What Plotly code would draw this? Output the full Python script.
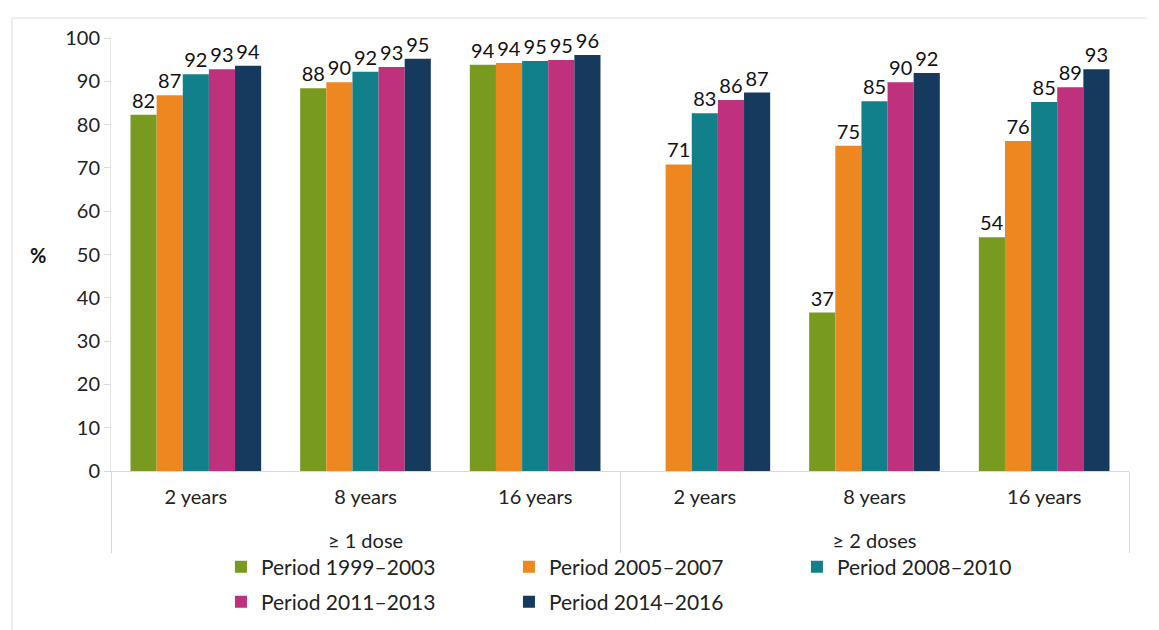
import plotly.graph_objects as go

doses = ["≥ 1 dose"] * 3 + ["≥ 2 doses"] * 3
ages = ["2 years", "8 years", "16 years"] * 2

series_names = ["Period 1999–2003", "Period 2005–2007", "Period 2008–2010",
                "Period 2011–2013", "Period 2014–2016"]
p1999 = [82.3, 88.4, 93.8, None, 36.6, 54.0]
p2005 = [86.8, 89.8, 94.2, 70.8, 75.1, 76.2]
p2008 = [91.6, 92.2, 94.7, 82.6, 85.4, 85.2]
p2011 = [92.8, 93.3, 94.9, 85.7, 89.8, 88.6]
p2014 = [93.6, 95.2, 96.1, 87.4, 91.9, 92.8]
values = [p1999, p2005, p2008, p2011, p2014]
colors = ["#779A1F", "#EF8720", "#12808A", "#BF307D", "#163A5E"]

# group labels drawn one line lower (leading line break) like the reference
dose_labels = ["<br>" + d for d in doses]

FONT = "Lato"
fig = go.Figure()
for i, (name, vals, col) in enumerate(zip(series_names, values, colors)):
    fig.add_trace(go.Bar(
        name=name, x=[dose_labels, ages], y=vals,
        marker=dict(color=col, line=dict(width=0)),
        texttemplate="%{y:.0f}", textposition="outside",
        textfont=dict(family=FONT, size=20, color="#111"),
        cliponaxis=False,
        legend="legend" if i < 3 else "legend2",
    ))

legend_common = dict(
    orientation="h", x=0.108, xanchor="left", yanchor="middle",
    entrywidth=243, entrywidthmode="pixels",
    font=dict(family=FONT, size=21, color="#222"),
    traceorder="normal", itemwidth=30, bgcolor="rgba(0,0,0,0)",
)

# page body adds an 8px offset, so the figure is 8px smaller on each axis
fig.update_layout(
    width=1151, height=622,
    margin=dict(l=103, r=30, t=30, b=159, autoexpand=False),
    paper_bgcolor="white", plot_bgcolor="white",
    barmode="group", bargap=0.23, bargroupgap=0,
    font=dict(family=FONT, size=20, color="#222"),
    xaxis=dict(
        type="multicategory", showline=True, linecolor="#d9d9d9", linewidth=1,
        ticks="", showdividers=True, dividercolor="#d9d9d9", dividerwidth=1,
        tickfont=dict(family=FONT, size=20, color="#222"),
        ticklabelstandoff=8,
        showgrid=False,
    ),
    yaxis=dict(
        range=[0, 100], dtick=10, showgrid=False, zeroline=False,
        showline=True, linecolor="#e6e6e6", linewidth=1,
        ticks="outside", ticklen=6, tickcolor="#d9d9d9",
        tickfont=dict(family=FONT, size=20, color="#222"),
    ),
    legend=dict(legend_common, y=-0.2217),
    legend2=dict(legend_common, y=-0.3025),
    showlegend=True,
    annotations=[dict(text="<b>%</b>", x=-0.0717, y=0.5, xref="paper", yref="paper",
                      showarrow=False, xanchor="center", yanchor="middle",
                      font=dict(family=FONT, size=20, color="#111"))],
    shapes=[
        dict(type="line", xref="paper", yref="paper", x0=-0.0973, x1=1.0177,
             y0=1.046, y1=1.046, line=dict(color="#dcdcdc", width=1)),
        dict(type="line", xref="paper", yref="paper", x0=-0.0973, x1=-0.0973,
             y0=1.046, y1=-0.37, line=dict(color="#dcdcdc", width=1)),
    ],
)

fig.write_html("out.html")
